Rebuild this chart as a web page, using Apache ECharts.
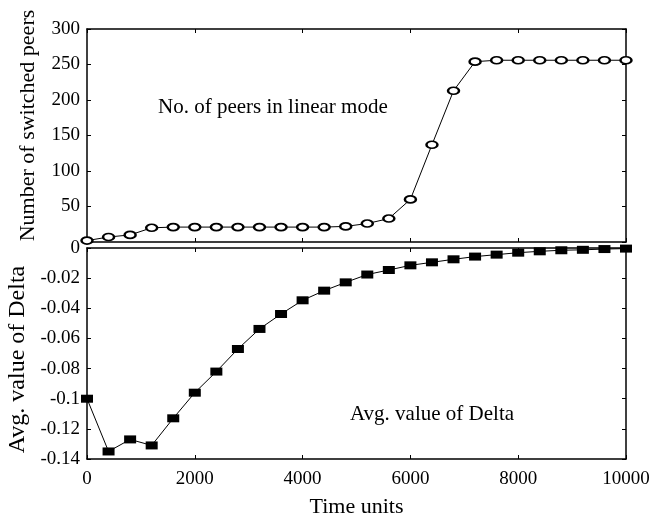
<!DOCTYPE html>
<html>
<head>
<meta charset="utf-8">
<script src="https://cdn.jsdelivr.net/npm/echarts@6/dist/echarts.min.js"></script>
<style>
    html, body { margin: 0; padding: 0; background: #fff; }
    #chart { width: 652px; height: 514px; }
</style>
</head>
<body>
<div id="chart"></div>
<script>
    // time units, one point every 400
    var timeUnits = [0, 400, 800, 1200, 1600, 2000, 2400, 2800, 3200, 3600, 4000, 4400, 4800,
        5200, 5600, 6000, 6400, 6800, 7200, 7600, 8000, 8400, 8800, 9200, 9600, 10000];

    // number of switched peers (top panel)
    var switchedPeers = [2, 7, 10, 20, 21, 21, 21, 21, 21, 21, 21, 21, 22,
        26, 33, 60, 137, 213, 254, 256, 256, 256, 256, 256, 256, 256];

    // avg value of Delta (bottom panel)
    var avgDelta = [-0.1, -0.135, -0.127, -0.131, -0.113, -0.096, -0.082, -0.067, -0.0537, -0.0438,
        -0.0347, -0.0283, -0.0228, -0.0176, -0.0146, -0.0115, -0.0095, -0.0075, -0.0057, -0.0044,
        -0.0031, -0.0022, -0.0015, -0.0012, -0.0007, -0.0004];

    var xTicks = [0, 2000, 4000, 6000, 8000, 10000];

    var FONT = 'Liberation Serif';

    function zip(xs, ys){
        var out = [];
        for(var i = 0; i < xs.length; i++){
            out.push([xs[i], ys[i]]);
        }
        return out;
    }

    var axisLine = { show: true, onZero: false, lineStyle: { color: '#000', width: 1.5 } };
    var tickIn = { show: true, inside: true, length: 4, lineStyle: { color: '#000', width: 1 } };
    var labelStyle = { color: '#000', fontFamily: FONT, fontSize: 19 };
    var nameStyle = { color: '#000', fontFamily: FONT, fontSize: 22 };

    function plainNum(v){
        return String(v);
    }

    function xAx(grid, pos, showLabel){
        return {
            type: 'value', gridIndex: grid, position: pos,
            min: xTicks[0], max: xTicks[xTicks.length - 1], interval: 2000,
            axisLine: axisLine, axisTick: tickIn, splitLine: { show: false },
            axisLabel: showLabel ? Object.assign({ margin: 11, formatter: plainNum }, labelStyle) : { show: false }
        };
    }

    function yAx(grid, pos, min, max, interval, showLabel, extra){
        var ax = {
            type: 'value', gridIndex: grid, position: pos,
            min: min, max: max, interval: interval,
            axisLine: axisLine, axisTick: tickIn, splitLine: { show: false },
            axisLabel: showLabel ? Object.assign({ margin: 7, formatter: plainNum }, labelStyle) : { show: false }
        };
        return Object.assign(ax, extra || {});
    }

    var chart = echarts.init(document.getElementById('chart'));

    var option = {
        backgroundColor: '#fff',
        animation: false,
        grid: [
            { left: 87, right: 26, top: 29, height: 213, outerBoundsMode: 'none' },
            { left: 87, right: 26, top: 248, height: 211, outerBoundsMode: 'none' }
        ],
        xAxis: [
            xAx(0, 'bottom', false),
            xAx(0, 'top', false),
            Object.assign(xAx(1, 'bottom', true), {
                name: 'Time units', nameLocation: 'middle', nameGap: 37,
                nameTextStyle: nameStyle
            }),
            xAx(1, 'top', false)
        ],
        yAxis: [
            yAx(0, 'left', 0, 300, 50, true, {
                name: 'Number of switched peers', nameLocation: 'middle', nameGap: 48,
                nameTextStyle: Object.assign({ padding: [0, 0, 0, 20] }, nameStyle),
                axisLabel: Object.assign({ margin: 7, showMinLabel: false, formatter: plainNum }, labelStyle)
            }),
            yAx(0, 'right', 0, 300, 50, false),
            yAx(1, 'left', -0.14, 0, 0.02, true, {
                name: 'Avg. value of Delta', nameLocation: 'middle', nameGap: 52,
                nameTextStyle: Object.assign({}, nameStyle, { fontSize: 24, padding: [0, 12, 0, 0] })
            }),
            yAx(1, 'right', -0.14, 0, 0.02, false)
        ],
        graphic: [
            {
                type: 'text', left: 158, top: 97,
                style: { text: 'No. of peers in linear mode', fill: '#000', font: '21px "Liberation Serif"' }
            },
            {
                type: 'text', left: 350, top: 404,
                style: { text: 'Avg. value of Delta', fill: '#000', font: '21px "Liberation Serif"' }
            }
        ],
        series: [
            {
                name: 'peers', type: 'line', xAxisIndex: 0, yAxisIndex: 0,
                data: zip(timeUnits, switchedPeers),
                symbol: 'emptyCircle', symbolSize: [11, 7],
                lineStyle: { color: '#000', width: 1 },
                itemStyle: { color: '#000', borderColor: '#000', borderWidth: 1 }
            },
            {
                name: 'delta', type: 'line', xAxisIndex: 2, yAxisIndex: 2,
                data: zip(timeUnits, avgDelta),
                symbol: 'rect', symbolSize: [12, 8],
                lineStyle: { color: '#000', width: 1 },
                itemStyle: { color: '#000' }
            }
        ]
    };

    chart.setOption(option);
</script>
</body>
</html>
